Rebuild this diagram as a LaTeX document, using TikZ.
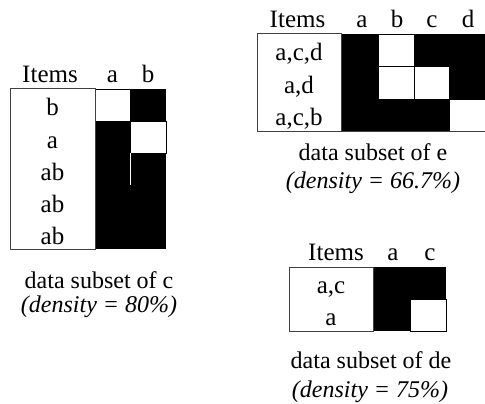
\documentclass[tikz,border=0pt]{standalone}
\usepackage{fontspec}
\setmainfont{Liberation Serif}
\begin{document}
\begin{tikzpicture}[x=1pt,y=-1pt,
  txt/.style={inner sep=0pt,anchor=base,font=\fontsize{25}{29}\selectfont},
  captext/.style={inner sep=0pt,anchor=base,font=\fontsize{24}{28}\selectfont},
  dens/.style={captext,font=\fontsize{24}{28}\selectfont\itshape},
  itembox/.style={draw=black!75,line width=1pt},
  blackcell/.style={fill=black},
  whitecell/.style={fill=white,draw=black,line width=0.7pt}]
\useasboundingbox (0,0) rectangle (485,404);

% ---------- data subset of c ----------
\fill[blackcell] (95,89) rectangle (166,249);
\draw[whitecell] (95,89) rectangle (130,121);
\draw[whitecell] (130,121) rectangle (166,153);
\draw[white,line width=0.8pt] (130,153) -- (130,185);
\draw[itembox] (10,89) rectangle (95,249);
\node[txt] (cH) at (50,82) {Items};
\node[txt] (cA) at (112.5,82) {a};
\node[txt] (cB) at (148,82) {b};
\node[txt] (c1) at (52.5,116) {b};
\node[txt] (c2) at (52.5,148) {a};
\node[txt] (c3) at (52.5,180) {ab};
\node[txt] (c4) at (52.5,212) {ab};
\node[txt] (c5) at (52.5,244) {ab};
\node[captext] (cCap) at (99,288) {data subset of c};
\node[dens] (cDen) at (99,312) {(density = 80\%)};

% ---------- data subset of e ----------
\fill[blackcell] (341,34) rectangle (485,131);
\draw[whitecell] (378,34) rectangle (414,66);
\draw[whitecell] (378,66) rectangle (414,99);
\draw[whitecell] (414,66) rectangle (449,99);
\draw[whitecell] (449,99) rectangle (485,131);
\draw[itembox] (257,34) rectangle (341,131);
\draw[black!75,line width=1pt] (341,131) -- (485,131);
\node[txt] (eH) at (297.5,28) {Items};
\node[txt] (eA) at (362,28) {a};
\node[txt] (eB) at (397,28) {b};
\node[txt] (eC) at (432,28) {c};
\node[txt] (eD) at (468,28) {d};
\node[txt] (e1) at (299,61) {a,c,d};
\node[txt] (e2) at (299,93) {a,d};
\node[txt] (e3) at (299,125) {a,c,b};
\node[captext] (eCap) at (373,160) {data subset of e};
\node[dens] (eDen) at (373,188) {(density = 66.7\%)};

% ---------- data subset of de ----------
\fill[blackcell] (373,267) rectangle (446,331);
\draw[whitecell] (410,299) rectangle (446,331);
\draw[itembox] (289,267) rectangle (373,331);
\node[txt] (dH) at (336,260) {Items};
\node[txt] (dA) at (393,260) {a};
\node[txt] (dC) at (430,260) {c};
\node[txt] (d1) at (331,293) {a,c};
\node[txt] (d2) at (331,325) {a};
\node[captext] (dCap) at (371,368) {data subset of de};
\node[dens] (dDen) at (370,397) {(density = 75\%)};
\end{tikzpicture}
\end{document}
